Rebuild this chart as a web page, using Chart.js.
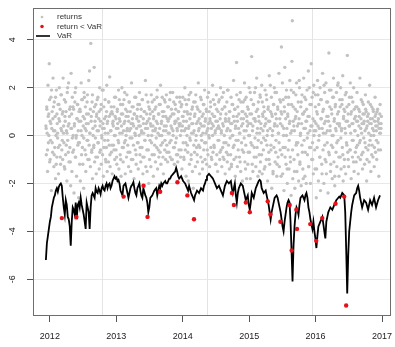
<!DOCTYPE html>
<html>
<head>
<meta charset="utf-8">
<script src="https://cdn.jsdelivr.net/npm/chart.js@4.4.1/dist/chart.umd.min.js"></script>
<style>
  html, body { margin: 0; padding: 0; background: #fff; }
  canvas { display: block; }
</style>
</head>
<body>
<canvas id="grafico" width="395" height="347"></canvas>
<script>
// =======================================================
// DADOS
// =======================================================

// retornos diários, parte 1 (um a cada ~2 pregões), do fim de 2011 ao fim de 2016
const retornos = [
  0.4, -0.8, 1.2, 0.1, -1.5, 2.1, -0.3, 0.9, 3.0, -1.1, 0.6, -0.2, 1.6, -2.3, 0.3, 1.0, -0.7, 2.4, 0.2, -1.3,
  1.4, -0.5, 0.8, -1.8, 0.0, 1.9, -0.9, 0.5, -0.1, 1.3, -1.6, 0.7, 2.0, -0.4, 1.1, -1.2, 0.3, 1.7, -0.6, 0.9,
  -1.0, 2.4, 0.1, -0.3, 1.5, -1.4, 0.6, -0.8, 1.0, 0.2, -1.9, 1.8, -0.2, 0.4, 2.2, -1.1, 0.8, -0.5, 1.2, -2.1,
  2.6, 0.3, -1.5, 1.6, -0.7, 0.0, 1.1, -2.4, 0.5, 1.4, -0.9, 2.0, -0.1, -1.7, 0.7, 1.3, -0.4, 0.2, -2.6, 1.0,
  -0.3, 1.1, -1.9, 0.6, 2.2, -0.8, 0.0, 1.5, -1.2, 0.4, -2.2, 1.8, 0.7, -0.6, 1.2, -1.5, 0.2, 0.9, -0.2, 1.7,
  -1.0, 0.5, 2.3, -0.4, 2.7, 0.1, -1.3, 3.85, 0.8, -0.7, 1.4, -1.8, 0.3, 1.0, -0.5, 2.85, -1.1, 0.6, -0.1, 1.3,
  -1.6, 0.9, 0.2, -0.9, 1.6, -0.3, 0.7, -1.4, 2.0, 0.4, -0.6, 1.1, -1.2, 0.0, 1.9, -0.8, 0.5, -1.7, 1.2, 0.3,
  -0.2, 1.5, -1.0, 0.8, -0.5, 2.1, -1.5, 0.6, 0.1, -1.1, 1.4, -0.4, 2.45, -1.3, 0.9, 0.2, -0.7, 1.0, -1.6, 0.5,
  0.6, -0.4, 1.2, 0.0, -1.0, 0.8, 1.6, -0.6, 0.3, -1.2, 1.0, 0.5, -0.2, 1.9, -1.4, 0.7, 0.1, -0.8, 1.3, -1.7,
  0.4, 2.0, -0.5, 0.9, -1.1, 0.2, 1.5, -0.3, 0.6, -1.6, 1.1, 0.0, -0.9, 1.7, 0.3, -0.4, 0.8, -1.3, 1.4, 0.2,
  -0.7, 1.0, -1.5, 0.5, 2.2, -0.1, 0.7, -1.0, 1.2, 0.4, -1.8, 0.9, 0.1, -0.6, 1.6, -1.2, 0.3, 0.8, -0.3, 1.3,
  -1.4, 0.6, 0.0, 1.8, -0.8, 0.4, -1.1, 1.1, 0.2, -0.5, 1.5, -1.6, 0.7, 0.1, -0.9, 1.0, -0.2, 2.3, -1.3, 0.5,
  0.9, -1.5, 0.3, 1.4, -0.6, -2.0, 0.7, 1.1, -0.2, 0.5, -1.3, 1.7, 0.0, -0.8, 1.0, 0.4, -1.7, 0.8, 1.5, -0.4,
  0.2, -1.1, 1.2, 0.6, -0.5, 1.9, -1.4, 0.1, 0.9, -0.9, 1.3, 0.3, -0.7, 2.1, -1.2, 0.5, 0.0, 1.6, -0.3, 0.8,
  -1.6, 1.0, 0.4, -0.6, 1.4, -1.0, 0.2, 1.7, -0.4, 0.7, -1.1, 0.6, 1.2, -0.7, 0.1, 1.5, -0.9, 0.8, -0.2, 1.1,
  0.3, -1.0, 1.8, 0.0, -0.5, 0.9, -1.2, 0.5, 1.3, -0.3, 0.6, -0.8, 1.6, 0.2, -1.1, 0.7, 1.0, -0.6, 0.4, 1.4,
  0.5, -0.9, 1.2, 0.2, -1.4, 0.8, 1.6, -0.3, 0.6, -1.0, 1.0, 2.0, -0.6, 0.3, -1.7, 1.3, 0.0, -0.4, 0.9, -1.9,
  1.5, 0.4, -1.2, 0.7, -0.2, 1.8, -0.8, 0.1, 1.1, -1.5, 0.5, -2.2, 1.4, 0.2, -0.7, 0.9, -1.3, 1.7, 0.0, -0.5,
  1.2, -1.1, 0.6, 2.2, -0.4, 0.3, -1.6, 1.0, 0.5, -0.9, 1.5, -0.2, 0.8, -1.4, 0.1, 1.3, -0.6, 0.4, 1.9, -1.0,
  0.7, -0.3, 1.1, -1.2, 0.2, 1.6, -0.8, 0.5, 0.0, 1.0, -1.3, 0.6, 1.4, -0.5, 0.3, -1.0, 0.9, 2.1, -0.7, 0.4,
  0.8, -0.5, 1.3, 0.1, -1.2, 0.6, 1.7, -0.8, 0.3, -1.5, 1.0, 0.4, -0.2, 1.5, -1.0, 0.7, 2.0, -0.6, 0.2, -1.3,
  1.1, 0.5, -0.9, 1.8, -0.3, 0.0, 1.2, -1.6, 0.6, 0.9, -0.7, 1.4, -1.1, 0.3, 1.9, -0.4, 0.7, -1.4, 1.0, 0.2,
  -0.8, 1.6, -1.2, 0.5, 0.0, 1.3, -0.5, 2.3, -1.0, 0.6, 1.1, -1.7, 0.4, -0.2, 3.05, 0.8, -1.3, 1.2, -0.6, 0.3,
  1.5, -0.9, 0.1, 1.8, -1.5, 0.7, -0.3, 1.0, -1.9, 0.5, 1.4, -0.7, 0.2, 2.2, -1.1, 0.9, -0.4, 1.6, -1.8, 0.6,
  0.4, -1.2, 1.1, 0.0, 2.0, -0.7, 0.9, -1.8, 0.5, 1.5, 3.3, -0.4, 0.2, -1.5, 1.3, 0.7, -0.9, 1.8, -0.1, 0.6,
  -1.3, 1.0, 2.4, -0.5, 0.3, -1.7, 1.4, 0.8, -0.8, 0.1, 1.7, -1.1, 0.5, -0.3, 2.1, -1.6, 0.9, 0.2, -0.6, 1.2,
  -1.4, 0.4, 1.9, -0.2, 0.7, -1.0, 1.5, 0.0, -1.9, 1.1, 0.6, -0.7, 2.5, -1.2, 0.3, 1.0, -0.4, 1.6, -2.2, 0.8,
  0.2, -1.5, 1.3, -0.5, 2.0, 0.5, -1.1, 0.9, -0.2, 1.8, -1.7, 0.4, 1.2, -0.9, 0.1, 2.6, -1.3, 0.7, -0.6, 1.4,
  1.0, 3.7, -0.8, 0.4, -1.6, 1.5, 0.0, -2.3, 1.2, 2.85, -0.5, 0.7, -1.2, 1.9, 0.3, -2.0, 0.9, -0.6, 1.6, -1.4,
  0.5, 2.3, -0.9, 0.1, -2.5, 1.3, 3.1, 4.8, -1.8, 0.6, 1.8, -1.0, 0.2, -2.2, 1.1, 0.8, -0.4, 2.2, -1.5, 0.4,
  -0.3, 1.4, -1.9, 0.7, 2.0, -1.1, 0.0, 1.2, -2.1, 0.5, 1.7, -0.7, -1.4, 0.9, 2.4, -0.2, 1.0, -1.7, 0.3, 1.5,
  -2.0, 0.6, 1.9, -0.8, 0.1, 2.7, -1.3, 0.8, -0.5, 1.3, -2.0, 0.4, 3.0, -1.0, 1.6, -0.3, 0.7, -1.6, 2.1, 0.2,
  0.6, -1.4, 1.7, 0.2, -2.6, 1.0, -0.5, 2.3, 0.4, -1.9, 1.3, 0.0, -0.9, 2.0, -2.3, 0.7, 1.5, -1.2, 0.3, 2.6,
  -0.6, 1.1, -2.0, 0.5, 1.8, -1.0, 0.1, 2.2, -1.6, 0.8, -0.3, 1.4, -2.4, 0.6, 3.45, -0.8, 1.2, 0.2, -1.5, 1.9,
  -0.4, 0.9, -1.8, 1.6, 0.0, 2.4, -1.1, 0.7, -2.1, 1.2, 0.3, -0.7, 1.8, -1.3, 0.5, 2.1, -0.2, 1.0, -1.7, 0.4,
  1.5, -0.9, 2.0, -1.4, 0.2, 1.3, -0.5, 2.5, -1.9, 0.8, 1.1, -1.0, 0.3, 1.7, -1.6, 0.6, -0.3, 1.2, 3.35, -0.7,
  0.9, -1.3, 0.4, 1.6, -0.6, 2.2, 0.1, -1.8, 1.0, 0.5, -0.9, 1.4, -0.2, 2.0, -1.5, 0.7, 0.2, -0.7, 1.2, -1.1,
  0.6, 1.8, -0.4, 0.0, -1.6, 1.1, 0.8, -0.3, 2.4, -1.0, 0.3, 1.5, -0.8, 0.5, -1.4, 0.9, 1.3, -0.1, 0.6, -1.2,
  0.2, 1.7, -0.5, 1.0, -1.9, 0.4, 0.8, -0.6, 1.4, 0.1, -1.1, 2.1, -0.2, 0.7, -1.5, 0.5, 1.2, -0.4, 0.3, -0.9,
  1.0, 0.0, -1.3, 0.6, 1.6, -0.7, 0.9, 0.2, -1.0, 0.4, 1.1, -0.3, 0.7, -1.7, 0.5, 0.1, 1.3, -0.6, 0.3, 0.8
];
// retornos diários, parte 2 (os demais pregões, mesma janela)
const retornosResto = [
  0.3, 1.1, -0.6, 0.8, 0.0, 1.5, -1.0, 0.5, 1.9, -0.3, 0.7, 1.2, -0.8, 0.2, 1.6, -1.2, 0.9, 0.1, -0.5, 1.3,
  0.6, -0.9, 1.7, 0.2, -0.2, 1.0, 0.4, -1.3, 0.8, 1.4, -0.4, 0.1, 2.0, -0.7, 0.5, 1.1, -1.1, 0.3, 0.9, -0.1,
  1.2, -0.6, 0.4, 1.8, -0.9, 0.0, 0.7, 1.3, -0.3, 0.6, -1.2, 1.0, 0.2, 1.5, -0.5, 0.8, -0.1, 1.6, 0.3, -0.8,
  0.5, 1.4, -0.2, 0.9, -1.0, 0.1, 1.1, 0.6, -0.6, 1.7, 0.0, -0.4, 1.2, 0.4, -0.9, 0.8, 1.5, -0.3, 0.2, 1.0,
  -0.7, 0.6, 1.3, -0.1, 0.3, 1.9, -0.5, 0.7, 0.1, -1.1, 1.0, 0.5, -0.2, 1.4, 0.8, -0.8, 0.2, 1.2, -0.4, 0.9,
  0.4, -0.6, 1.6, 0.0, 0.7, -0.9, 1.1, 0.3, -0.3, 1.5, 0.6, -1.0, 0.9, 0.1, 1.3, -0.5, 0.5, 1.8, -0.2, 0.8,
  0.2, 1.0, -0.7, 0.6, 1.4, -0.1, 0.3, -1.0, 1.2, 0.5, -0.4, 0.9, 1.6, 0.0, -0.8, 0.7, 1.1, -0.3, 0.4, 1.3,
  -0.5, 0.8, 0.1, 1.5, -0.9, 0.5, 1.0, -0.2, 0.3, 1.7, -0.6, 0.6, 0.0, 1.2, -1.0, 0.9, 0.4, -0.3, 1.4, 0.2,
  0.7, -0.8, 1.1, 0.3, -0.1, 1.6, 0.5, -0.6, 0.9, 0.0, 1.3, -0.4, 0.6, 1.0, -0.9, 0.2, 1.5, -0.2, 0.8, 0.4,
  -0.7, 1.2, 0.1, 0.7, -0.3, 1.8, 0.4, -1.0, 0.9, 0.2, 1.4, -0.5, 0.6, 1.1, -0.1, 0.3, -0.8, 1.0, 0.5, 1.6,
  0.0, -0.6, 1.3, 0.4, 0.8, -0.9, 0.2, 1.5, -0.3, 0.6, 1.0, -0.7, 0.3, 1.7, -0.1, 0.9, -1.0, 0.5, 1.2, 0.1,
  -0.4, 0.8, 1.4, -0.2, 0.5, -0.8, 1.1, 0.2, 0.7, -0.5, 1.6, 0.0, 0.4, -1.1, 0.9, 1.3, -0.3, 0.6, 0.1, 1.0,
  -0.6, 0.3, 1.8, -0.1, 0.7, 1.2, -0.9, 0.5, 0.0, 1.5, -0.4, 0.8, 0.2, -1.2, 1.1, 0.6, -0.2, 1.4, 0.3, -0.7,
  0.9, 0.1, 1.6, -0.5, 0.4, -1.0, 1.2, 0.7, -0.3, 0.2, 1.9, -0.8, 0.6, 1.0, -0.1, 0.5, -1.3, 1.3, 0.0, 0.8,
  -0.4, 1.1, 0.3, -0.9, 1.7, 0.6, -0.2, 0.9, 0.1, -1.1, 1.4, 0.4, -0.6, 1.0, 0.7, -0.1, 1.5, -1.4, 0.2, 0.8,
  1.2, -0.7, 0.5, 0.0, 1.8, -0.3, 0.9, -1.2, 0.4, 1.3, -0.5, 0.7, 2.0, -0.9, 0.1, 1.1, -0.2, 0.6, -1.5, 1.6,
  0.3, -0.8, 1.4, 0.8, -0.1, 1.0, -1.3, 0.5, 1.7, -0.4, 0.2, 1.2, -1.0, 0.6, 2.1, -0.6, 0.9, 0.0, -1.6, 1.3,
  0.4, 1.8, -0.7, 0.7, -1.2, 1.1, 0.1, -0.3, 1.5, 0.5, -1.7, 0.9, 2.2, -0.5, 0.3, 1.0, -0.9, 1.6, 0.0, -1.4,
  0.8, 1.3, -0.2, 0.6, -1.1, 1.9, 0.2, -0.6, 1.2, 0.4, -1.5, 0.7, 1.7, -0.3, 1.0, -0.8, 0.5, 2.3, -1.2, 0.1,
  1.4, -0.4, 0.9, -1.8, 0.3, 1.6, -0.7, 0.6, 1.1, -0.1, 0.8, -1.3, 2.0, 0.2, -0.5, 1.3, 0.4, -1.0, 1.8, 0.0,
  -0.6, 1.2, 0.5, -1.4, 0.9, 1.7, -0.2, 0.3, -0.9, 1.5, 0.7, -1.6, 1.0, 0.1, 2.1, -0.4, 0.6, -1.1, 1.4, 0.2,
  0.8, -0.7, 1.9, 0.4, -1.2, 1.1, 0.0, -0.5, 1.6, 0.6, -1.7, 1.3, 0.2, -0.3, 0.9, 2.2, -0.9, 0.5, 1.2, -0.1,
  0.3, 1.5, -0.8, 0.7, -1.3, 1.0, 0.1, 1.8, -0.4, 0.6, -1.0, 1.3, 0.4, -0.6, 0.9, 1.6, -0.2, 0.5, -1.1, 1.1,
  0.2, 0.8, -0.5, 1.2, 0.6, -0.9, 0.4, 1.0, -0.2, 0.7, 0.1, 1.4, -0.7, 0.5, 0.9, -0.3, 1.1, 0.3, -1.0, 0.6,
  0.9, -0.4, 0.5, 1.3, 0.0, -0.8, 0.7, 1.1, 0.2, -0.5, 0.8, 0.4, -0.2, 1.0, 0.6, -0.6, 0.3, 0.9, 0.1, 0.5
];
const retornosInicio = 2011.94;
const retornosFim = 2016.99;

// VaR estimado (um valor a cada ~5,5 dias corridos)
const valoresVaR = [
  -5.2, -4.5, -4.2, -3.9, -3.6, -3.4, -3.0, -2.8, -2.6, -2.5,
  -2.3, -2.2, -2.35, -2.15, -2.05, -2.0, -2.1, -2.6, -3.0, -3.3,
  -2.7, -2.9, -3.4, -3.5, -3.8, -4.6, -3.6, -3.0, -3.1, -3.3,
  -2.8, -3.5, -2.9, -2.8, -3.0, -2.6, -2.9, -3.1, -3.3, -3.6,
  -3.9, -2.8, -3.0, -3.2, -3.9, -3.0, -2.5, -2.4, -2.5, -2.6,
  -2.2, -2.35, -2.4, -2.2, -2.3, -2.45, -2.2, -2.1, -2.25, -2.3,
  -2.1, -2.0, -2.2, -2.05, -2.0, -2.2, -2.1, -1.9, -1.8, -1.7,
  -1.8, -1.75, -1.9, -1.85, -2.0, -2.3, -2.4, -2.5, -2.1, -2.05,
  -2.0, -2.2, -2.4, -2.6, -2.4, -2.2, -2.1, -2.05, -1.95, -2.2,
  -2.4, -2.5, -2.2, -2.1, -2.0, -2.3, -2.5, -2.6, -2.2, -2.35,
  -2.5, -2.6, -2.8, -3.2, -3.0, -2.6, -2.55, -2.5, -2.4, -2.3,
  -2.25, -2.2, -2.5, -2.3, -2.1, -2.2, -2.0, -2.1, -2.0, -1.95,
  -1.9, -2.0, -2.0, -1.9, -1.8, -1.8, -1.7, -1.65, -1.6, -1.55,
  -1.5, -1.35, -1.5, -1.7, -1.8, -1.75, -1.7, -1.8, -1.9, -1.95,
  -2.0, -2.1, -2.2, -2.3, -2.1, -2.25, -2.4, -2.5, -2.6, -2.7,
  -2.5, -2.4, -2.3, -2.35, -2.4, -2.3, -2.2, -2.25, -2.3, -2.1,
  -2.0, -1.85, -1.7, -1.65, -1.6, -1.65, -1.7, -1.75, -1.8, -1.9,
  -2.0, -2.1, -2.2, -2.15, -2.1, -2.2, -2.3, -2.4, -2.5, -2.3,
  -2.1, -2.0, -1.9, -1.95, -2.0, -1.95, -1.9, -2.2, -2.4, -2.2,
  -2.0, -2.5, -2.8, -2.4, -2.2, -2.1, -2.0, -2.05, -2.1, -2.3,
  -2.5, -2.7, -2.6, -2.5, -2.9, -3.1, -2.8, -2.4, -2.5, -2.6,
  -2.4, -2.2, -2.1, -2.0, -1.9, -1.85, -1.9, -2.2, -2.3, -2.4,
  -2.35, -2.3, -2.5, -2.7, -2.9, -3.2, -3.5, -3.2, -3.0, -2.8,
  -2.6, -2.55, -2.5, -2.6, -2.8, -3.0, -3.2, -3.5, -3.8, -4.0,
  -3.6, -3.3, -3.0, -2.8, -2.7, -2.8, -3.6, -4.8, -6.1, -4.6,
  -3.8, -3.3, -3.0, -3.1, -3.3, -2.9, -2.6, -2.55, -2.5, -2.6,
  -2.7, -2.5, -2.4, -2.6, -3.0, -3.2, -3.5, -3.7, -3.9, -3.6,
  -4.0, -4.3, -4.7, -4.2, -3.8, -3.7, -3.6, -3.5, -3.4, -3.7,
  -4.0, -4.3, -3.6, -3.4, -3.2, -3.1, -3.0, -3.05, -3.1, -3.0,
  -2.9, -2.8, -2.7, -2.65, -2.6, -2.55, -2.6, -2.5, -2.4, -2.45,
  -2.5, -3.2, -4.8, -6.6, -5.0, -4.0, -3.6, -3.2, -2.9, -2.7,
  -2.5, -2.45, -2.4, -2.2, -2.1, -2.3, -2.6, -2.8, -3.0, -2.85,
  -2.7, -2.75, -2.8, -2.95, -3.1, -2.9, -2.7, -2.8, -2.9, -2.75,
  -2.6, -2.8, -3.0, -2.85, -2.7, -2.6, -2.5
];
const varInicio = 2011.94;
const varFim = 2016.97;

// dias em que o retorno ficou abaixo do VaR
const excessoAnos = [
  2012.18, 2012.40, 2013.11, 2013.41, 2013.47, 2013.66, 2013.92, 2014.07, 2014.17,
  2014.74, 2014.77, 2014.95, 2015.01, 2015.28, 2015.32, 2015.47, 2015.61, 2015.64,
  2015.71, 2015.72, 2015.92, 2016.01, 2016.10, 2016.30, 2016.43, 2016.46
];
const excessoValores = [
  -3.45, -3.4, -2.55, -2.1, -3.4, -2.35, -1.95, -2.5, -3.5,
  -2.4, -2.9, -2.8, -3.2, -2.75, -3.3, -3.6, -2.9, -4.8,
  -3.1, -3.9, -3.7, -4.4, -3.45, -2.85, -2.55, -7.1
];

const anosTicks = [2012, 2013, 2014, 2015, 2016, 2017];
const valoresTicks = [-6, -4, -2, 0, 2, 4];
const anosGrade = [2012.78, 2014.36, 2015.94];

// =======================================================
// MONTAGEM DO GRÁFICO
// =======================================================

function espalharNoTempo(valores, inicio, fim) {
  const passo = (fim - inicio) / (valores.length - 1);
  return valores.map((v, i) => ({ x: inicio + i * passo, y: v }));
}

const fonte = '"Liberation Sans", Arial, sans-serif';

// grade vertical e moldura, no estilo do gráfico base do R
const moldura = {
  id: 'moldura',
  beforeDatasetsDraw(chart) {
    const { ctx, chartArea, scales } = chart;
    ctx.save();
    ctx.strokeStyle = '#e4e4e4';
    ctx.lineWidth = 1;
    anosGrade.forEach(ano => {
      const x = Math.round(scales.x.getPixelForValue(ano)) + 0.5;
      ctx.beginPath();
      ctx.moveTo(x, chartArea.top);
      ctx.lineTo(x, chartArea.bottom);
      ctx.stroke();
    });
    ctx.restore();
  },
  afterDatasetsDraw(chart) {
    const { ctx, chartArea } = chart;
    ctx.save();
    ctx.strokeStyle = '#6e6e6e';
    ctx.lineWidth = 1;
    ctx.strokeRect(chartArea.left + 0.5, chartArea.top + 0.5,
      chartArea.right - chartArea.left - 1, chartArea.bottom - chartArea.top - 1);
    ctx.restore();
  }
};

// legenda desenhada à mão (canto superior esquerdo, sem caixa)
const legenda = {
  id: 'legendaManual',
  afterDraw(chart) {
    const ctx = chart.ctx;
    const itens = chart.data.datasets.filter(ds => ds.label);
    ctx.save();
    ctx.font = '8px ' + fonte;
    ctx.textBaseline = 'middle';
    itens.forEach((ds, i) => {
      const y = 17 + i * 9.5;
      if (ds.showLine) {
        ctx.strokeStyle = ds.borderColor;
        ctx.lineWidth = 1.6;
        ctx.beginPath();
        ctx.moveTo(36, y);
        ctx.lineTo(50, y);
        ctx.stroke();
      } else {
        ctx.fillStyle = ds.backgroundColor;
        ctx.beginPath();
        ctx.arc(42, y, ds.pointRadius * 0.8, 0, Math.PI * 2);
        ctx.fill();
      }
      ctx.fillStyle = '#333';
      ctx.fillText(ds.label, 57, y);
    });
    ctx.restore();
  }
};

// tira o espaço extra que o Chart.js reserva para os rótulos nas pontas
function semFolga(s) {
  s.paddingTop = 0;
  s.paddingBottom = 0;
  s.paddingLeft = 0;
  s.paddingRight = 0;
}

const cinza = '#c2c2c2';

new Chart(document.getElementById('grafico'), {
  type: 'scatter',
  data: {
    datasets: [
      {
        label: 'returns',
        data: espalharNoTempo(retornos, retornosInicio, retornosFim),
        backgroundColor: cinza,
        borderWidth: 0,
        pointRadius: 1.7,
        order: 3
      },
      {
        label: 'return < VaR',
        data: excessoAnos.map((a, i) => ({ x: a, y: excessoValores[i] })),
        backgroundColor: '#e8101a',
        borderWidth: 0,
        pointRadius: 2.2,
        order: 1
      },
      {
        label: 'VaR',
        data: espalharNoTempo(valoresVaR, varInicio, varFim),
        showLine: true,
        borderColor: '#000',
        borderWidth: 1.8,
        pointRadius: 0,
        tension: 0,
        order: 2
      },
      {
        // mesma série "returns", só os pregões restantes (fora da legenda)
        label: '',
        data: espalharNoTempo(retornosResto, retornosInicio + 0.004, retornosFim - 0.004),
        backgroundColor: cinza,
        borderWidth: 0,
        pointRadius: 1.7,
        order: 4
      }
    ]
  },
  options: {
    responsive: false,
    animation: false,
    devicePixelRatio: 1,
    layout: { padding: { top: 8, right: 2, left: 0, bottom: 0 } },
    plugins: { legend: { display: false }, tooltip: { enabled: false } },
    scales: {
      x: {
        type: 'linear',
        min: 2011.746,
        max: 2017.135,
        afterBuildTicks: s => { s.ticks = anosTicks.map(v => ({ value: v })); },
        afterFit: s => { s.height = 31; semFolga(s); },
        ticks: {
          callback: v => String(v),
          font: { family: fonte, size: 9 },
          color: '#222',
          padding: 9,
          maxRotation: 0
        },
        grid: { drawOnChartArea: false, drawTicks: true, tickLength: 6, tickColor: '#555' },
        border: { display: false }
      },
      y: {
        type: 'linear',
        min: -7.54,
        max: 5.33,
        afterBuildTicks: s => { s.ticks = valoresTicks.map(v => ({ value: v })); },
        afterFit: s => { s.width = 33; semFolga(s); },
        ticks: {
          callback: v => String(v),
          font: { family: fonte, size: 9 },
          color: '#222',
          padding: 10,
          minRotation: 90,
          maxRotation: 90,
          crossAlign: 'center'
        },
        grid: { color: '#e8e8e8', drawTicks: true, tickLength: 6, tickColor: '#555' },
        border: { display: false }
      }
    }
  },
  plugins: [moldura, legenda]
});
</script>
</body>
</html>
